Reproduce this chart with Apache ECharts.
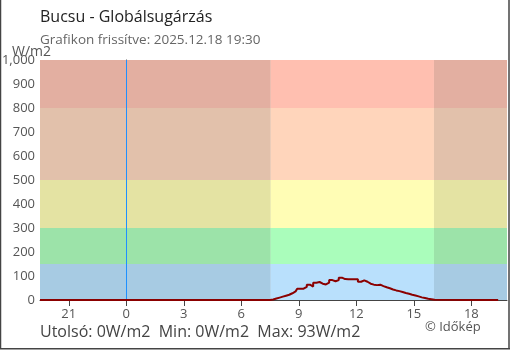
<!DOCTYPE html>
<html><head><meta charset="utf-8">
<script src="https://cdn.jsdelivr.net/npm/echarts@6/dist/echarts.min.js"></script>
<style>html,body{margin:0;padding:0;background:#fff}#c{width:510px;height:350px}</style>
</head><body><div id="c"></div>
<script>
// hours relative to midnight of 2025-12-18 (negative = previous day)
const hours = [-4.5, 7.5, 7.667, 7.833, 8.0, 8.167, 8.333, 8.5, 8.667, 8.833, 9.0, 9.167, 9.333, 9.5, 9.667, 9.833,
  10.0, 10.167, 10.333, 10.5, 10.667, 10.833, 11.0, 11.167, 11.333, 11.5, 11.667, 11.833,
  12.0, 12.167, 12.333, 12.5, 12.667, 12.833, 13.0, 13.167, 13.333, 13.5, 13.667, 13.833,
  14.0, 14.167, 14.333, 14.5, 14.667, 14.833, 15.0, 15.167, 15.333, 15.5, 15.667, 15.833, 16.0, 16.167, 19.4];
const values = [0, 0, 2, 6, 10, 14, 18, 22, 28, 36, 47, 47, 55, 64, 56, 72,
  75, 68, 65, 72, 83, 78, 83, 93, 87, 86, 86, 86,
  86, 76, 82, 76, 68, 64, 62, 64, 58, 53, 49, 44,
  40, 37, 33, 29, 26, 22, 19, 15, 11, 8, 5, 3, 1, 0, 0];
const xTicks = [-3, 0, 3, 6, 9, 12, 15, 18];
const bandLimits = [0, 150, 300, 500, 800, 1000];
const dayColors = ['#B9E0FC', '#AAFDBB', '#FFFDB5', '#FFD5BB', '#FFBFB0'];
const nightColors = ['#A7CBE3', '#9CE3A9', '#E4E3A3', '#E2C1AB', '#E3AFA1'];
const sunrise = 7.54, sunset = 16.05;
const xMin = -4.5, xMax = 19.86;
const titleText = 'Bucsu - Globálsugárzás';
const subText = 'Grafikon frissítve: 2025.12.18 19:30';
const footText = 'Utolsó: 0W/m2  Min: 0W/m2  Max: 93W/m2';
const credit = '© Időkép';

const FONT = '"Open Sans", "Noto Sans", sans-serif';
const areas = [];
for (let i = 0; i < 5; i++) {
  const lo = bandLimits[i], hi = bandLimits[i + 1];
  areas.push([{xAxis: xMin, yAxis: lo, itemStyle: {color: nightColors[i]}}, {xAxis: sunrise, yAxis: hi}]);
  areas.push([{xAxis: sunrise, yAxis: lo, itemStyle: {color: dayColors[i]}}, {xAxis: sunset, yAxis: hi}]);
  areas.push([{xAxis: sunset, yAxis: lo, itemStyle: {color: nightColors[i]}}, {xAxis: xMax, yAxis: hi}]);
}
const data = hours.map((h, i) => [h, values[i]]);
const lab = v => String((v + 24) % 24);

const chart = echarts.init(document.getElementById('c'), null, {renderer: 'canvas'});
chart.setOption({
  animation: false,
  backgroundColor: '#fff',
  grid: {left: 40, top: 60, right: 3, bottom: 50, outerBoundsMode: 'none'},
  xAxis: [{
    type: 'value', min: xMin, max: xMax,
    axisLine: {show: true, lineStyle: {color: '#444', width: 1}},
    axisTick: {show: true, length: 6, inside: false, customValues: xTicks, lineStyle: {color: '#444'}},
    axisLabel: {customValues: xTicks, formatter: lab, color: '#555', fontSize: 13, fontFamily: FONT, margin: 8},
    splitLine: {show: false}
  }, {
    type: 'value', min: xMin, max: xMax, position: 'bottom',
    axisLine: {show: false},
    axisTick: {show: true, length: 6, inside: true, customValues: xTicks, lineStyle: {color: '#444'}},
    axisLabel: {show: false}, splitLine: {show: false}
  }],
  yAxis: [{
    type: 'value', min: 0, max: 1000, interval: 100,
    axisLine: {show: true, lineStyle: {color: '#444', width: 1}},
    axisTick: {show: true, length: 6, lineStyle: {color: '#444'}},
    axisLabel: {color: '#555', fontSize: 13, fontFamily: FONT, margin: 5},
    splitLine: {show: false}
  }, {
    type: 'value', min: 0, max: 1000, interval: 100, position: 'left',
    axisLine: {show: false},
    axisTick: {show: true, length: 6, inside: true, lineStyle: {color: '#444'}},
    axisLabel: {show: false}, splitLine: {show: false}
  }],
  series: [{
    type: 'line', data: data, step: 'middle', showSymbol: false, symbol: 'none',
    lineStyle: {color: '#8B0000', width: 2}, z: 5,
    markArea: {silent: true, data: areas, z: 1},
    markLine: {silent: true, symbol: 'none', label: {show: false},
      lineStyle: {color: '#1E90FF', width: 1, type: 'solid'}, data: [{xAxis: 0}]}
  }],
  graphic: [
    {type: 'text', left: 40, top: 9, style: {text: titleText, font: '16px ' + FONT, fill: '#222'}},
    {type: 'text', left: 40, top: 33, style: {text: subText, font: '13.5px ' + FONT, fill: '#666'}},
    {type: 'text', left: 12, top: 45, style: {text: 'W/m2', font: '14px ' + FONT, fill: '#555'}},
    {type: 'text', left: 40, top: 324, style: {text: footText, font: '16px ' + FONT, fill: '#444'}},
    {type: 'text', left: 425, top: 321, style: {text: credit, font: '13px ' + FONT, fill: '#555'}},
    {type: 'line', shape: {x1: 0.5, y1: 0, x2: 0.5, y2: 349}, style: {stroke: '#444', lineWidth: 1.5}},
    {type: 'line', shape: {x1: 509, y1: 0, x2: 509, y2: 349}, style: {stroke: '#444', lineWidth: 1.5}},
    {type: 'line', shape: {x1: 0, y1: 348.8, x2: 510, y2: 348.8}, style: {stroke: '#444', lineWidth: 1.5}}
  ]
});
</script></body></html>
